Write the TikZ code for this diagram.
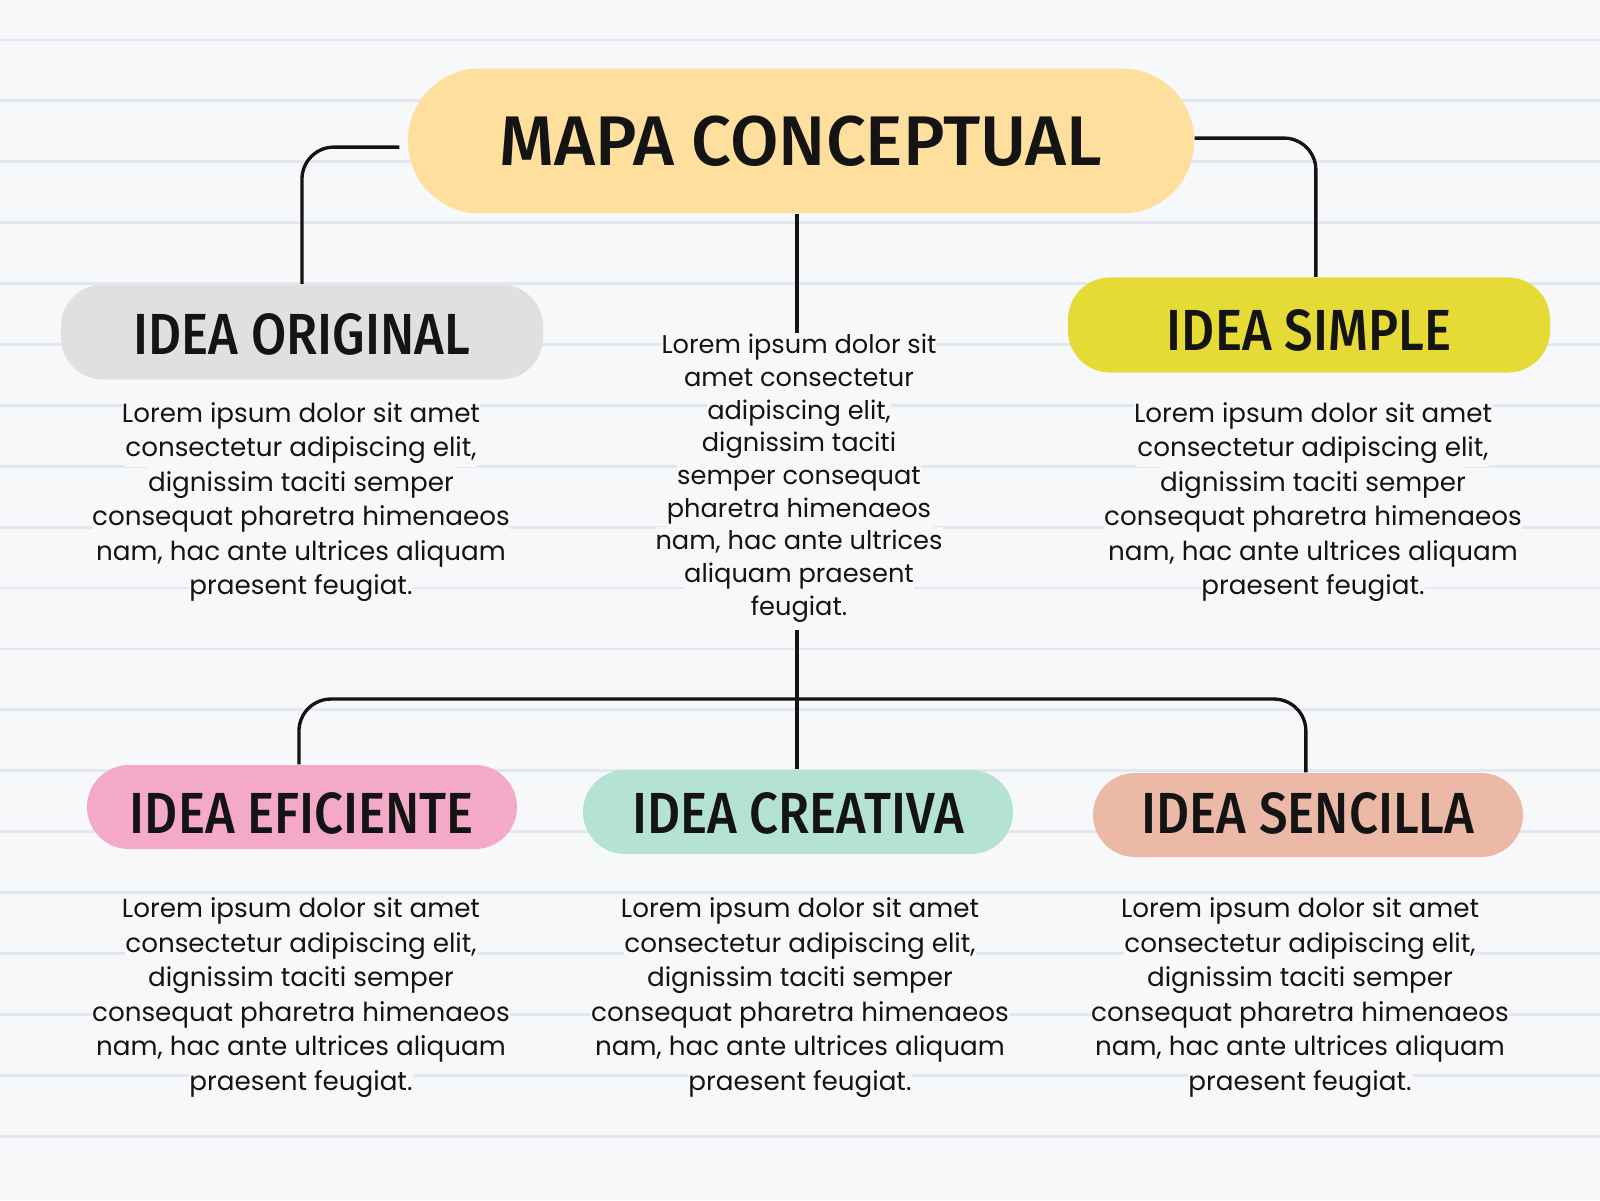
\documentclass[tikz,border=0pt]{standalone}
\usepackage{fontspec}
\usepackage{tikz}
\setmainfont{Poppins}
\newfontfamily\headfont{Fira Sans Medium}[FakeStretch=0.88]
\newfontfamily\titlefont{Fira Sans Medium}
\definecolor{paper}{HTML}{F7F8FA}
\definecolor{ruleGray}{HTML}{E3E7EF}
\definecolor{ink}{HTML}{141414}
\definecolor{peach}{HTML}{FFDF9E}
\definecolor{lightGray}{HTML}{E0E0E0}
\definecolor{lemon}{HTML}{E6DA36}
\definecolor{rose}{HTML}{F5A9C8}
\definecolor{mint}{HTML}{B5E3D3}
\definecolor{salmon}{HTML}{ECB9A6}
\newcommand{\onLine}[1]{\smash{\colorbox{paper}{\strut #1}}}
\setlength{\fboxsep}{0pt}

\begin{document}
\begin{tikzpicture}[scale = 10]
\tikzstyle{ruleStyle} = [draw = ruleGray, line width = 0.8pt]
\tikzstyle{EdgeStyle} = [draw = ink, line width = 0.95pt, rounded corners = 0.32cm]
\tikzstyle{pillStyle} = [shape = rectangle, rounded corners = 0.42cm, inner sep = 0pt, text = ink, font = \headfont\fontsize{16.5}{18}\selectfont]
\tikzstyle{titleStyle} = [pillStyle, rounded corners = 0.72cm, fill = peach, minimum width = 7.86cm, minimum height = 1.45cm, font = \titlefont\fontsize{20}{22}\selectfont]
\tikzstyle{bigPillStyle} = [pillStyle, minimum width = 4.82cm, minimum height = 0.95cm]
\tikzstyle{smallPillStyle} = [pillStyle, minimum width = 4.30cm, minimum height = 0.84cm]
\tikzstyle{textStyle} = [align = center, inner sep = 0pt, text = ink, font = \fontsize{7.45}{9.82}\selectfont]
\tikzstyle{midTextStyle} = [textStyle, inner ysep = 0.2cm, font = \fontsize{7.3}{9.3}\selectfont]
\fill[paper] (0, 0) rectangle (1.6, 1.2);
\useasboundingbox (0, 0) rectangle (1.6, 1.2);
\foreach \k in {0,...,18}
  \draw[ruleStyle] (0, {1.160 - 0.0609*\k}) -- (1.6, {1.160 - 0.0609*\k});
\node[titleStyle] (title) at (0.801, 1.059) {MAPA CONCEPTUAL};
\node[bigPillStyle, fill = lightGray, text height = 0.44cm, text depth = 0cm] (orig) at (0.302, 0.868) {IDEA ORIGINAL};
\node[bigPillStyle, fill = lemon, text height = 0.50cm, text depth = 0cm] (simple) at (1.309, 0.875) {IDEA SIMPLE};
\node[smallPillStyle, fill = rose, text height = 0.52cm, text depth = 0cm] (eficiente) at (0.302, 0.393) {IDEA EFICIENTE};
\node[smallPillStyle, fill = mint, text height = 0.42cm, text depth = 0cm] (creativa) at (0.798, 0.388) {IDEA CREATIVA};
\node[smallPillStyle, fill = salmon, text height = 0.40cm, text depth = 0.03cm] (sencilla) at (1.308, 0.385) {IDEA SENCILLA};
\node[midTextStyle] (midText) at (0.799, 0.7155) {\onLine{Lorem ipsum dolor sit}\\ \onLine{amet consectetur}\\ \onLine{adipiscing elit,}\\ \onLine{dignissim taciti}\\ \onLine{semper consequat}\\ \onLine{pharetra himenaeos}\\ \onLine{nam, hac ante ultrices}\\ \onLine{aliquam praesent}\\ \onLine{feugiat.}};
\node[textStyle] (origText) at (0.301, 0.6915) {\onLine{Lorem ipsum dolor sit amet}\\ \onLine{consectetur adipiscing elit,}\\ \onLine{dignissim taciti semper}\\ \onLine{consequat pharetra himenaeos}\\ \onLine{nam, hac ante ultrices aliquam}\\ \onLine{praesent feugiat.}};
\node[textStyle] (simpleText) at (1.313, 0.6915) {\onLine{Lorem ipsum dolor sit amet}\\ \onLine{consectetur adipiscing elit,}\\ \onLine{dignissim taciti semper}\\ \onLine{consequat pharetra himenaeos}\\ \onLine{nam, hac ante ultrices aliquam}\\ \onLine{praesent feugiat.}};
\node[textStyle] (eficienteText) at (0.301, 0.196) {\onLine{Lorem ipsum dolor sit amet}\\ \onLine{consectetur adipiscing elit,}\\ \onLine{dignissim taciti semper}\\ \onLine{consequat pharetra himenaeos}\\ \onLine{nam, hac ante ultrices aliquam}\\ \onLine{praesent feugiat.}};
\node[textStyle] (creativaText) at (0.800, 0.196) {\onLine{Lorem ipsum dolor sit amet}\\ \onLine{consectetur adipiscing elit,}\\ \onLine{dignissim taciti semper}\\ \onLine{consequat pharetra himenaeos}\\ \onLine{nam, hac ante ultrices aliquam}\\ \onLine{praesent feugiat.}};
\node[textStyle] (sencillaText) at (1.300, 0.196) {\onLine{Lorem ipsum dolor sit amet}\\ \onLine{consectetur adipiscing elit,}\\ \onLine{dignissim taciti semper}\\ \onLine{consequat pharetra himenaeos}\\ \onLine{nam, hac ante ultrices aliquam}\\ \onLine{praesent feugiat.}};
\coordinate (bus) at (0.797, 0.501);
\draw[EdgeStyle] ([xshift = -0.008cm, yshift = -0.006cm]title.west) -| (orig.north);
\draw[EdgeStyle] ([yshift = 0.003cm]title.east) -| ([xshift = 0.007cm]simple.north);
\draw[EdgeStyle] ([xshift = -0.004cm]title.south) -- ([xshift = -0.002cm]midText.north);
\draw[EdgeStyle] ([xshift = -0.002cm, yshift = 0.006cm]midText.south) -- ([xshift = -0.001cm]creativa.north);
\draw[EdgeStyle] ([xshift = -0.003cm]eficiente.north) |- (bus) -| ([xshift = -0.002cm]sencilla.north);
\end{tikzpicture}
\end{document}
